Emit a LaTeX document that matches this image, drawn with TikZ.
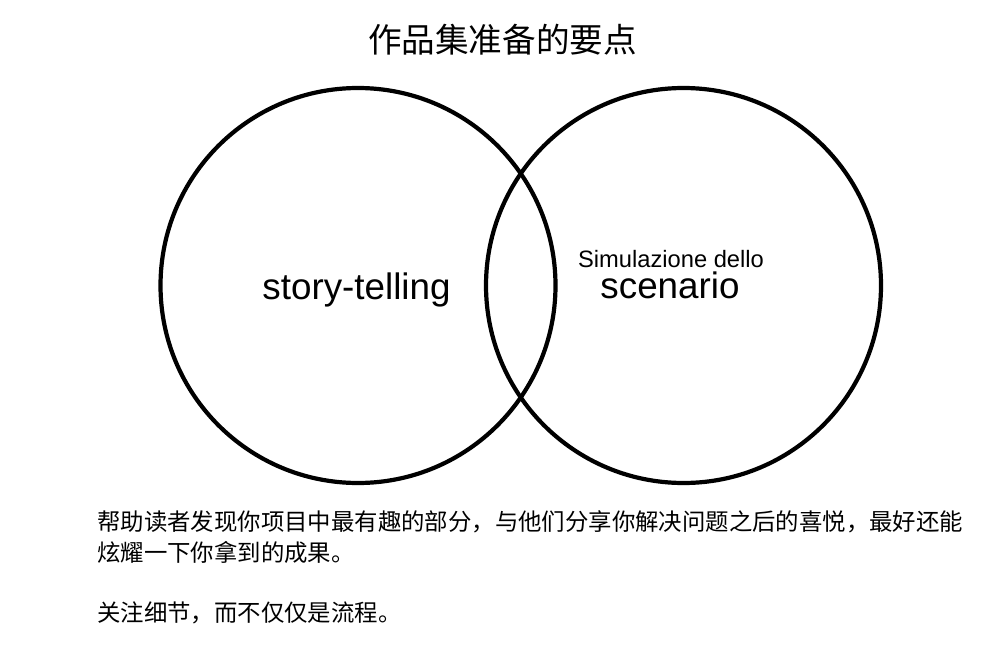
\documentclass[tikz,border=0pt]{standalone}
\usepackage{fontspec}
\setmainfont{Liberation Sans}
\newfontfamily\cjk{Noto Sans CJK SC}
\usetikzlibrary{positioning}

\begin{document}
\begin{tikzpicture}[x=1pt,y=-1pt,ring/.style={draw,circle,line width=4.2pt,minimum size=395pt,inner sep=0pt},word/.style={inner sep=0pt,font=\fontsize{36.8}{40}\selectfont},para/.style={inner sep=0pt,anchor=west,font=\cjk\fontsize{23.4}{28}\selectfont}]
      \useasboundingbox (0,0) rectangle (1008,658);
      \node[inner sep=0pt,font=\cjk\fontsize{33.6}{38}\selectfont] (title) at (502.5,40) {作品集准备的要点};

      \node[ring] (left) at (358,285.5) {};
      \node[ring] (right) at (683.5,285.5) {};

      \node[word,anchor=base] (story) at (356.5,299) {story-telling};
      \node[word,anchor=base] (scen) at (670,298) {scenario};
      \node[inner sep=0pt,anchor=base,font=\fontsize{23.7}{28}\selectfont] (simu) at (671,267) {Simulazione dello};

      \node[para] (l1) at (97,522) {帮助读者发现你项目中最有趣的部分，与他们分享你解决问题之后的喜悦，最好还能};
      \node[para] (l2) at (97,552) {炫耀一下你拿到的成果。};
      \node[para] (l3) at (97,613) {关注细节，而不仅仅是流程。};
     \end{tikzpicture}
\end{document}
